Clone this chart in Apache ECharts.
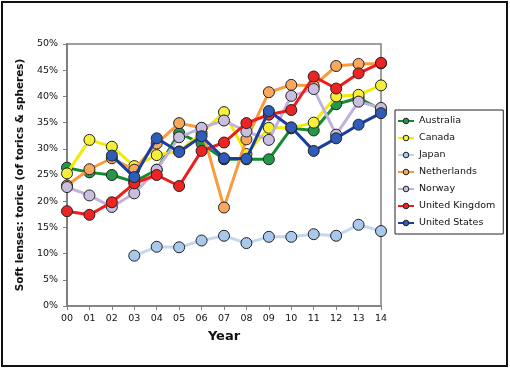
<!DOCTYPE html>
<html><head><meta charset="utf-8">
<script src="https://cdn.jsdelivr.net/npm/echarts@6/dist/echarts.min.js"></script>
<style>html,body{margin:0;padding:0;background:#fff}#c{width:510px;height:370px}</style>
</head><body><div id="c"></div>
<script>
const years = ['00','01','02','03','04','05','06','07','08','09','10','11','12','13','14'];
const australia   = [26.4,25.5,25.0,23.7,26.0,33.0,31.0,28.0,28.0,28.0,33.9,33.5,38.5,39.7,37.5];
const canada      = [25.3,31.7,30.4,26.7,28.8,29.5,33.0,37.0,29.0,34.0,34.0,35.0,40.0,40.3,42.1];
const japan       = [null,null,null,9.6,11.3,11.2,12.5,13.4,12.0,13.2,13.2,13.7,13.4,15.5,14.3];
const netherlands = [23.0,26.1,28.2,26.0,31.0,34.9,34.0,18.8,31.8,40.8,42.2,42.0,45.8,46.2,46.3];
const norway      = [22.7,21.1,18.9,21.5,26.0,32.2,34.0,35.4,33.3,31.7,40.1,41.4,32.7,39.0,37.8];
const uk          = [18.1,17.4,19.8,23.4,25.0,22.9,29.6,31.2,34.9,36.5,37.4,43.8,41.5,44.4,46.4];
const us          = [null,null,28.7,24.6,32.0,29.4,32.4,28.2,28.1,37.2,34.1,29.6,32.0,34.6,36.8];
const yTicks = [0,5,10,15,20,25,30,35,40,45,50];

const names = ['Australia','Canada','Japan','Netherlands','Norway','United Kingdom','United States'];
const datas = [australia,canada,japan,netherlands,norway,uk,us];
const lineColors = ['#168a2e','#f2ec00','#c3d8ef','#f79b3c','#c0b2da','#f01c1c','#1a3ea0'];
const markColors = ['#22984a','#f5ef3a','#a8c9ec','#f9a85e','#c9bee0','#ee2424','#2e5cb8'];

const chart = echarts.init(document.getElementById('c'), null, {renderer:'canvas'});
const font = 'DejaVu Sans';
chart.setOption({
  animation:false,
  backgroundColor:'#fff',
  textStyle:{fontFamily:font},
  graphic:[{type:'rect',shape:{x:2,y:2,width:505,height:364},style:{fill:null,stroke:'#111',lineWidth:2},z:100}],
  grid:{left:67,right:129,top:44,bottom:64,show:true,borderColor:'#7f7f7f',borderWidth:1.5,backgroundColor:'transparent'},
  legend:{
    orient:'vertical',left:395,top:110,
    data:names,
    itemWidth:16,itemHeight:7,itemGap:7,
    padding:[6,8,6,2],
    borderColor:'#222',borderWidth:1,
    textStyle:{fontFamily:font,fontSize:9.5,color:'#111'},
    itemStyle:{borderColor:'#222',borderWidth:1}
  },
  xAxis:{
    type:'category',data:years,boundaryGap:false,
    name:'Year',nameLocation:'middle',nameGap:24,
    nameTextStyle:{fontFamily:font,fontSize:13,fontWeight:'bold',color:'#111'},
    axisLine:{lineStyle:{color:'#7f7f7f',width:1.5}},
    axisTick:{show:true,inside:false,length:4,alignWithLabel:true,lineStyle:{color:'#7f7f7f'}},
    axisLabel:{fontFamily:font,fontSize:9.5,color:'#111',margin:8,interval:0},
    splitLine:{show:false}
  },
  yAxis:{
    type:'value',min:0,max:50,interval:5,
    name:'Soft lenses: torics (of torics & spheres)',nameLocation:'middle',nameGap:38,
    nameTextStyle:{fontFamily:font,fontSize:10.5,fontWeight:'bold',color:'#111'},
    axisLine:{show:true,lineStyle:{color:'#7f7f7f',width:2}},
    axisTick:{show:true,length:4,lineStyle:{color:'#7f7f7f'}},
    axisLabel:{fontFamily:font,fontSize:9.5,color:'#111',margin:9,
      formatter:v=>yTicks.includes(v)?v+'%':''},
    splitLine:{show:false}
  },
  series:names.map((n,i)=>({
    name:n,type:'line',data:datas[i],
    symbol:'circle',symbolSize:11,connectNulls:false,
    lineStyle:{color:lineColors[i],width:3},
    itemStyle:{color:markColors[i],borderColor:'#222',borderWidth:1},
    z:2+i
  }))
});
</script></body></html>
